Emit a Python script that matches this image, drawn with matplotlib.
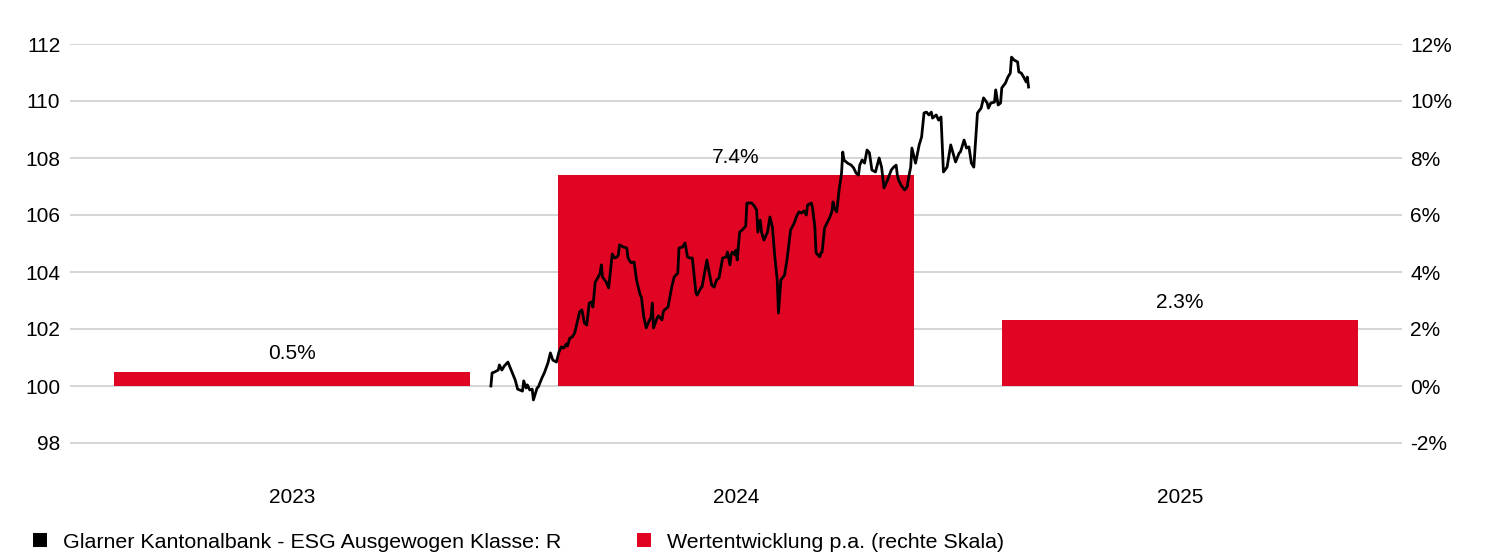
import numpy as np
import pandas as pd
import matplotlib
matplotlib.use("Agg")
import matplotlib.pyplot as plt
from matplotlib.patches import Patch

plt.rcParams['font.family'] = ['Liberation Sans', 'DejaVu Sans']

# ---------------- data ----------------
years = ["2023", "2024", "2025"]
perf_pa = [0.5, 7.4, 2.3]          # % p.a. (right axis)
perf_labels = ["0.5%", "7.4%", "2.3%"]

series_start = "2023-12-13"
# days since series start
day_offsets = [
    0, 1, 3, 6, 7, 9, 11, 14, 16, 20, 22, 26, 27, 29, 30, 32, 34, 35, 38, 39,
    42, 44, 47, 49, 51, 54, 56, 58, 60, 62, 63, 65, 67, 69, 72, 73, 75, 77, 79, 81,
    83, 84, 86, 88, 90, 91, 92, 95, 97, 100, 102, 104, 105, 106, 109, 112, 113, 115, 116, 118,
    120, 123, 124, 126, 128, 130, 132, 133, 134, 137, 138, 141, 142,
    143, 146, 149, 151, 154, 155, 158, 160, 162, 164, 166, 169, 170, 173, 174, 178, 180, 182,
    184, 186, 188, 191, 194, 195, 197, 198, 199, 201, 202, 203, 205, 207, 210, 211, 215, 217,
    219, 220, 222, 223, 225, 228, 230, 232, 234, 236, 237, 239, 242, 244, 247, 250, 252, 254,
    256, 258, 260, 261, 264, 265, 267, 268, 271, 272, 273, 275, 277, 279, 281, 282, 283, 285,
    287, 289, 290, 291, 294,
    297, 299, 301, 303, 304, 306, 308, 310, 312, 314, 317, 318, 320, 322, 324, 327, 330, 332,
    334, 335, 336, 338, 341, 343, 345, 346, 347, 350, 351, 353, 355, 357, 359, 361, 363, 364,
    367, 369, 371, 373, 376, 379, 383, 386, 387, 390, 392, 394, 396, 398, 401, 404, 406, 409,
    410, 412, 415, 416, 418, 420, 421, 424, 426, 428, 429, 431, 434, 435, 437, 439, 441, 442, 443,
]
fund_values = [
    100.00, 100.46, 100.49, 100.56, 100.74, 100.56, 100.70, 100.84, 100.63, 100.21,
    99.89, 99.82, 100.18, 99.93, 100.04, 99.86, 99.89, 99.51, 99.93, 99.96,
    100.28, 100.46, 100.81, 101.16, 100.91, 100.84, 101.19, 101.37, 101.33, 101.47,
    101.40, 101.68, 101.72, 101.86, 102.39, 102.60, 102.67, 102.21, 102.14, 102.91,
    102.95, 102.77, 103.65, 103.79, 103.96, 104.25, 103.82, 103.65, 103.44, 104.63,
    104.49, 104.53, 104.60, 104.95, 104.88, 104.84, 104.49, 104.35, 104.32, 104.35,
    103.72, 103.19, 103.12, 102.42, 102.04, 102.25, 102.42, 102.91, 102.04, 102.39,
    102.46, 102.32, 102.60,
    102.67, 102.77, 103.47, 103.82, 103.96, 104.84, 104.88, 105.02, 104.53, 104.49,
    104.49, 103.26, 103.19, 103.44, 103.47, 104.42, 103.96, 103.54, 103.47, 103.72,
    103.79, 104.49, 104.53, 104.70, 104.25, 104.60, 104.70, 104.60, 104.77, 104.42,
    105.40, 105.47, 105.61, 106.42, 106.42, 106.32,
    106.18, 105.40, 105.82, 105.40, 105.12, 105.40, 105.93, 105.58, 104.53, 103.72,
    102.56, 103.72, 103.89, 104.42, 105.47, 105.72, 105.96, 106.11, 106.07, 106.14,
    106.00, 106.35, 106.42, 106.28, 105.58, 104.67, 104.53, 104.67, 104.70, 105.54,
    105.72, 105.89, 106.11, 106.46, 106.25, 106.11, 106.88, 107.47, 108.21, 107.93,
    107.82,
    107.75, 107.65, 107.47, 107.40, 107.75, 107.93, 107.82, 108.28, 108.18, 107.58,
    107.51, 107.68, 108.00, 107.68, 106.95, 107.23, 107.58, 107.68, 107.75, 107.40,
    107.23, 107.05, 106.88, 106.98, 107.47, 107.68, 108.35, 107.82, 108.04, 108.46,
    108.74, 109.58, 109.61, 109.51, 109.61, 109.40,
    109.51, 109.33, 109.44, 107.51, 107.68, 108.46, 107.86, 108.18, 108.21, 108.63,
    108.35, 108.39, 107.82, 107.68, 109.58, 109.75, 110.11, 109.93, 109.75, 109.93,
    109.96, 110.39, 109.86, 109.93, 110.46, 110.63, 110.84, 110.98, 111.54, 111.44,
    111.37, 111.02, 110.98, 110.84, 110.67, 110.84, 110.49,
]

left_ticks = [98, 100, 102, 104, 106, 108, 110, 112]
right_ticks = [-2, 0, 2, 4, 6, 8, 10, 12]
legend_labels = ["Glarner Kantonalbank - ESG Ausgewogen Klasse: R",
                 "Wertentwicklung p.a. (rechte Skala)"]

# ---------------- styling ----------------
RED = "#E10524"
GRID = "#d2d2d2"
FS = 15
FS_LEG = 15.4

fig = plt.figure(figsize=(14.98, 5.57), dpi=100)
ax = fig.add_axes([70/1498, 1 - 471.5/557, (1402 - 70)/1498, (471.5 - 44)/557])

# bars on percent scale
xpos = np.arange(len(years))
bars = ax.bar(xpos, perf_pa, width=0.8, color=RED, zorder=2)
ax.set_xlim(-0.5, len(years) - 0.5)
ax.set_ylim(-3, 12)
ax.set_xticks(xpos)
ax.set_xticklabels(years)
ax.grid(axis="y", color=GRID, linewidth=1.3, zorder=0)
ax.set_axisbelow(True)
for s in ax.spines.values():
    s.set_visible(False)

for b, lab in zip(bars, perf_labels):
    ax.annotate(lab, (b.get_x() + b.get_width() / 2, b.get_height()),
                xytext=(0, 13), textcoords="offset points",
                ha="center", va="center", fontsize=FS)

# line on index scale
ax2 = ax.twinx()
ax2.set_ylim(97, 112)
ax2.set_yticks(left_ticks)
for s in ax2.spines.values():
    s.set_visible(False)

# put percent ticks on the right, index ticks on the left (after twinx)
ax.yaxis.tick_right()
ax.set_yticks(right_ticks)
ax.set_yticklabels([f"{t}%" for t in right_ticks])
ax2.yaxis.tick_left()
ax.tick_params(axis="both", length=0, labelsize=FS, colors="black")
ax.tick_params(axis="y", pad=6)
ax.tick_params(axis="x", pad=12)
ax2.tick_params(axis="y", length=0, labelsize=FS, pad=7, colors="black")

dates = pd.Timestamp(series_start) + pd.to_timedelta(day_offsets, unit="D")
days_in_year = np.where(dates.is_leap_year, 366, 365)
xline = (dates.year - int(years[0])) - 0.5 + (dates.dayofyear - 1) / days_in_year
ax2.plot(xline, fund_values, color="black", linewidth=2.0, zorder=5)

# legend
handles = [Patch(facecolor="black"), Patch(facecolor=RED)]
fig.legend(handles, legend_labels, loc="center left",
           bbox_to_anchor=(33/1498, 1 - 542/557), ncol=2, frameon=False,
           fontsize=FS_LEG, handlelength=0.66, handleheight=0.66,
           handletextpad=0.75, columnspacing=3.55, borderaxespad=0,
           borderpad=0)

fig.savefig("out.png", dpi=100)
